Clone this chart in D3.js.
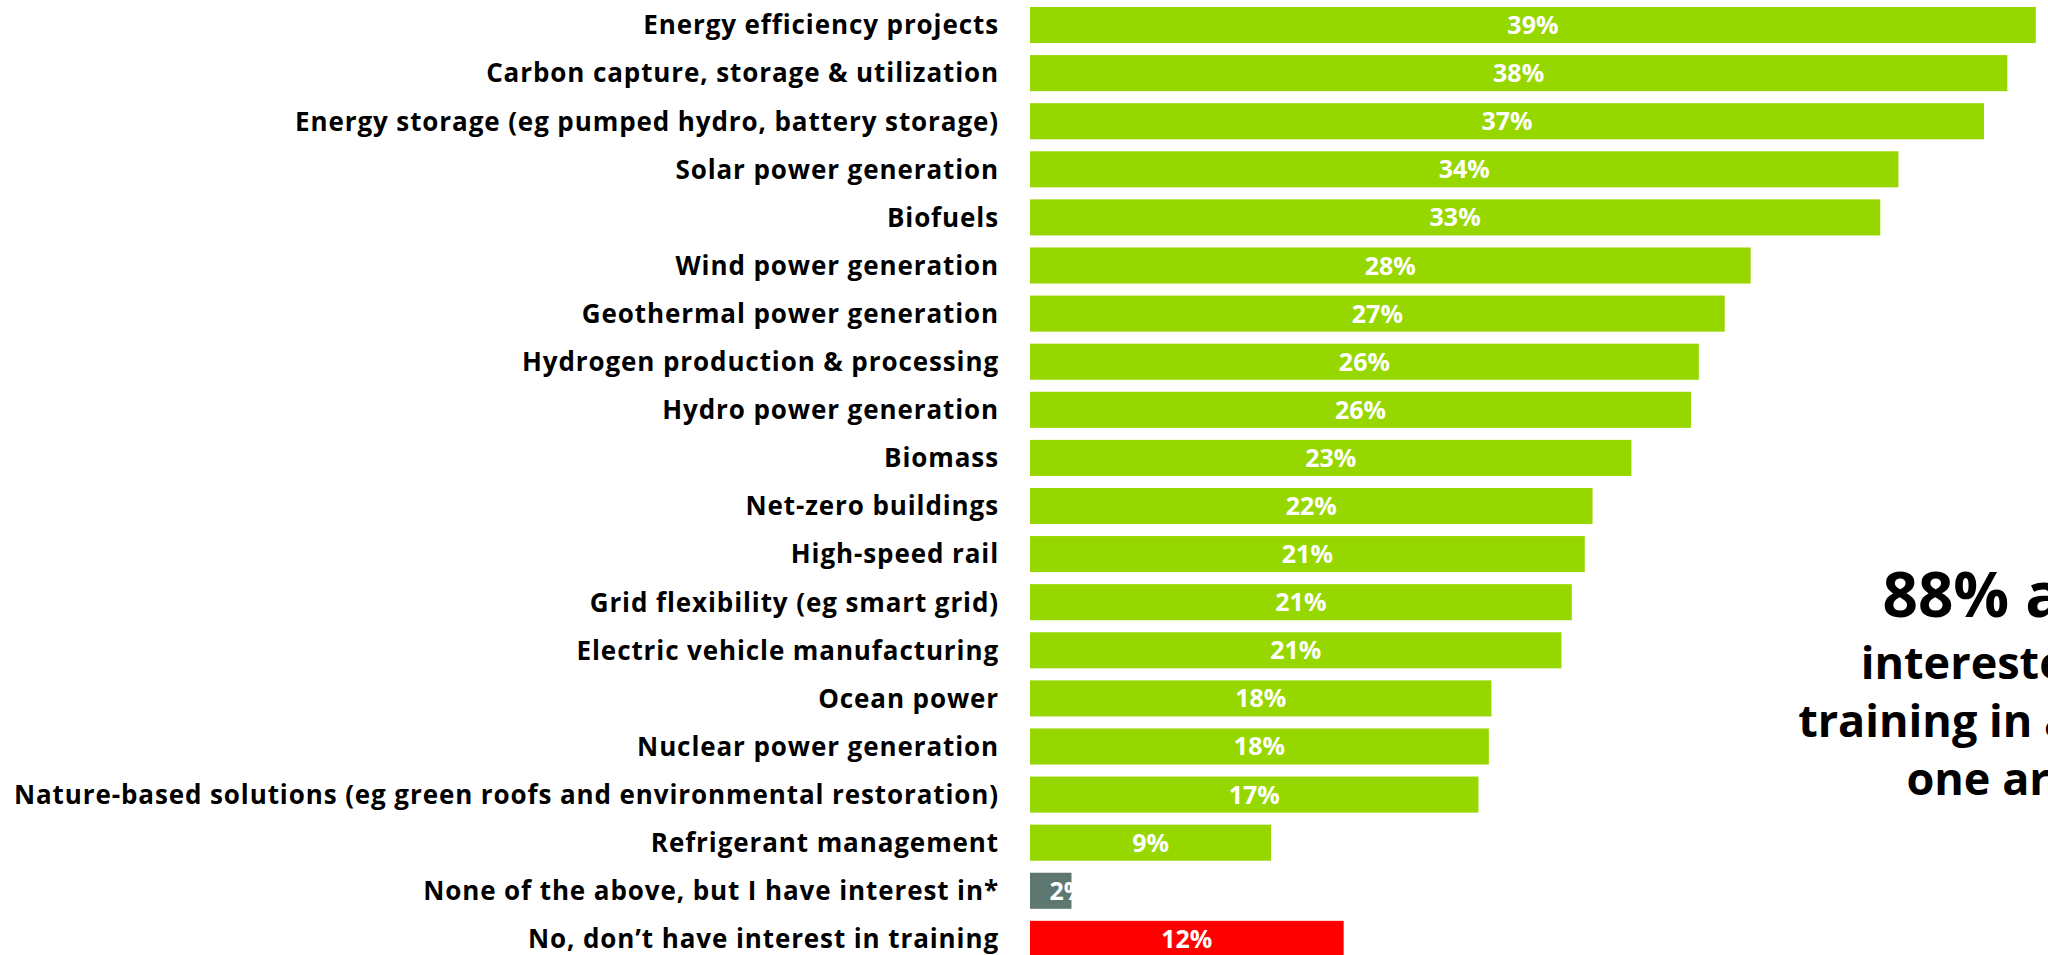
<!DOCTYPE html>
<html>
<head>
<meta charset="utf-8">
<script src="https://cdn.jsdelivr.net/npm/d3@7"></script>
<style>
  html, body { margin: 0; padding: 0; background: #fff; overflow: hidden; }
  text { font-family: "Open Sans", Lato, sans-serif; font-weight: 700; }
</style>
</head>
<body>
<svg id="chart" width="2048" height="955"></svg>
<script>
// categories top to bottom
const categories = [
  "Energy efficiency projects",
  "Carbon capture, storage & utilization",
  "Energy storage (eg pumped hydro, battery storage)",
  "Solar power generation",
  "Biofuels",
  "Wind power generation",
  "Geothermal power generation",
  "Hydrogen production & processing",
  "Hydro power generation",
  "Biomass",
  "Net-zero buildings",
  "High-speed rail",
  "Grid flexibility (eg smart grid)",
  "Electric vehicle manufacturing",
  "Ocean power",
  "Nuclear power generation",
  "Nature-based solutions (eg green roofs and environmental restoration)",
  "Refrigerant management",
  "None of the above, but I have interest in*",
  "No, don\u2019t have interest in training"
];
const values = [38.8, 37.7, 36.8, 33.5, 32.8, 27.8, 26.8, 25.8, 25.5, 23.2, 21.7, 21.4, 20.9, 20.5, 17.8, 17.7, 17.3, 9.3, 1.6, 12.1];
const groups = ["yes", "yes", "yes", "yes", "yes", "yes", "yes", "yes", "yes", "yes",
  "yes", "yes", "yes", "yes", "yes", "yes", "yes", "yes", "other", "no"];
const calloutLines = ["88% are", "interested in", "training in at least", "one area"];

const svg = d3.select("#chart");

const x = d3.scaleLinear().domain([0, 39]).range([1030, 2041]);
// step ~48.1px, bars 36px tall
const y = d3.scaleBand().domain(categories).range([7, 7 + 48.1 * 19 + 36]).paddingInner(0.25).paddingOuter(0);
const color = d3.scaleOrdinal().domain(["yes", "other", "no"]).range(["#97d700", "#5f7771", "#ff0000"]);

const rows = svg.selectAll("g.row")
  .data(categories.map((c, i) => ({ name: c, value: values[i], group: groups[i] })))
  .enter()
  .append("g")
  .attr("class", "row");

rows.append("rect")
  .attr("x", x(0))
  .attr("y", d => y(d.name))
  .attr("width", d => x(d.value) - x(0))
  .attr("height", y.bandwidth())
  .attr("fill", d => color(d.group));

rows.append("text")
  .attr("x", 999)
  .attr("y", d => y(d.name) + y.bandwidth() / 2)
  .attr("dy", "0.36em")
  .attr("text-anchor", "end")
  .attr("font-size", 26)
  .attr("letter-spacing", "0.9px")
  .attr("fill", "#000")
  .text(d => d.name);

// value labels sit mid-bar; tiny bars push the label right (the overflow is white on white)
rows.append("text")
  .attr("x", d => Math.max((x(0) + x(d.value)) / 2, x(0) + 38))
  .attr("y", d => y(d.name) + y.bandwidth() / 2)
  .attr("dy", "0.36em")
  .attr("text-anchor", "middle")
  .attr("font-size", 25)
  .attr("fill", "#fff")
  .text(d => Math.round(d.value) + "%");

// callout on the right, runs off the edge like the original
const callout = svg.append("text")
  .attr("text-anchor", "middle")
  .attr("fill", "#000");
calloutLines.forEach((t, i) => {
  callout.append("tspan")
    .attr("x", 2005)
    .attr("y", i === 0 ? 617 : 679 + (i - 1) * 58)
    .attr("font-size", i === 0 ? 62 : 45)
    .text(t);
});
</script>
</body>
</html>
